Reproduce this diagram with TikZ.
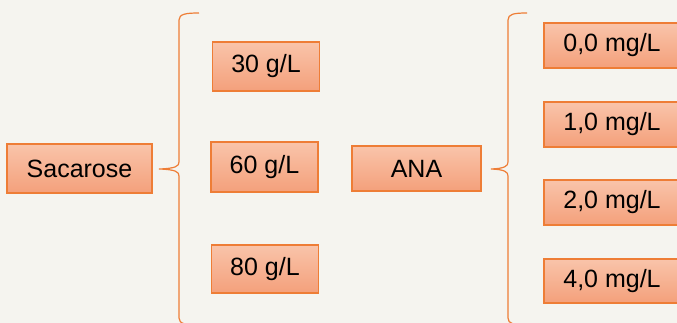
\documentclass[tikz,border=0pt]{standalone}
\usepackage{fontspec}
\setmainfont{Liberation Sans}
\begin{document}
\begin{tikzpicture}[x=1pt,y=-1pt,
  valbox/.style={draw=boxline, line width=1.2pt, top color=boxtop, bottom color=boxbot,
    inner sep=0pt, text=black, font=\fontsize{25}{30}\selectfont},
  brace/.style={draw=boxline, line width=1.2pt}]
\definecolor{paperbg}{HTML}{F5F4EF}
\definecolor{boxline}{HTML}{EE7D36}
\definecolor{boxtop}{HTML}{F9C4AA}
\definecolor{boxbot}{HTML}{F4A07B}

% canvas
\useasboundingbox (0,0) rectangle (677,323);
\fill[paperbg] (0,0) rectangle (677,323);

% factor: sucrose
\node[valbox, minimum width=145pt, minimum height=49pt] (sac) at (79.5,168.5) {Sacarose};
\node[valbox, minimum width=107pt, minimum height=49pt] (g30) at (266,66.5) {30 g/L};
\node[valbox, minimum width=107pt, minimum height=50pt] (g60) at (264.5,167) {60 g/L};
\node[valbox, minimum width=107pt, minimum height=48pt] (g80) at (265,269) {80 g/L};

% factor: NAA
\node[valbox, minimum width=129pt, minimum height=45pt] (ana) at (416.5,168.5) {ANA};
\node[valbox, minimum width=136pt, minimum height=45pt] (m0) at (612,45.5) {0,0 mg/L};
\node[valbox, minimum width=136pt, minimum height=45pt] (m1) at (612,124.5) {1,0 mg/L};
\node[valbox, minimum width=136pt, minimum height=45pt] (m2) at (612,202.5) {2,0 mg/L};
\node[valbox, minimum width=136pt, minimum height=44pt] (m4) at (612,281) {4,0 mg/L};

% curly braces
\coordinate (b1) at (159,169);
\coordinate (b2) at (491,169);
\draw[brace] (199,13) .. controls (186,13) and (179,14) .. (179,20) -- (179,162)
  .. controls (179,166) and (176,168.5) .. (b1)
  .. controls (176,169.5) and (179,172) .. (179,176) -- (179,318)
  .. controls (179,324) and (186,325) .. (199,325);
\draw[brace] (527,13) .. controls (514,13) and (508,14) .. (508,20) -- (508,162)
  .. controls (508,166) and (505,168.5) .. (b2)
  .. controls (505,169.5) and (508,172) .. (508,176) -- (508,318)
  .. controls (508,324) and (514,325) .. (527,325);
\end{tikzpicture}
\end{document}
